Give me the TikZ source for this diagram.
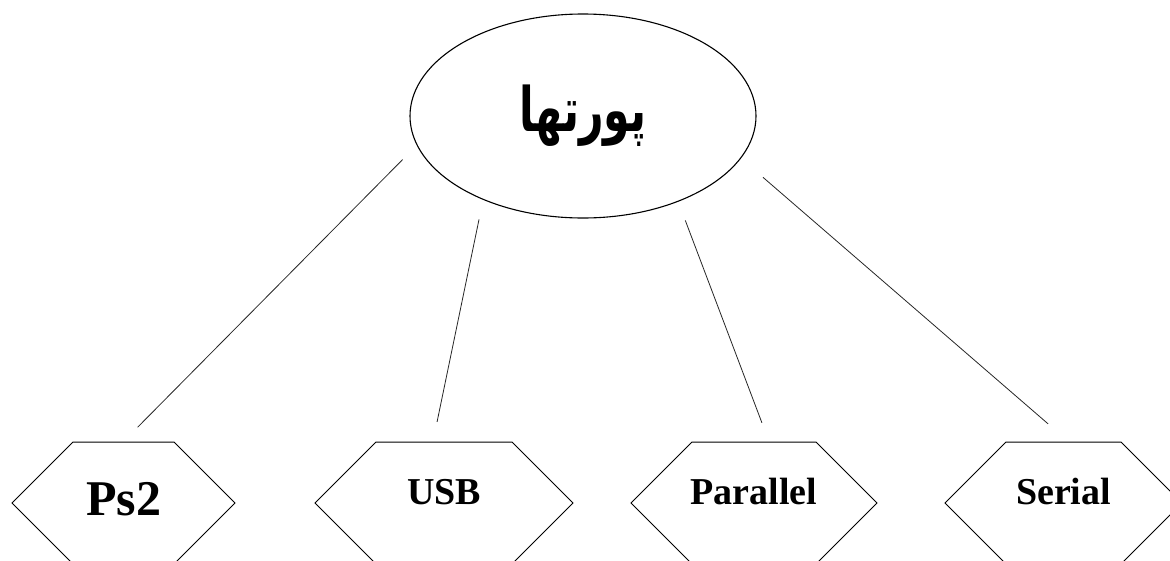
\documentclass[tikz,border=0pt]{standalone}
\usepackage{fontspec}
\setmainfont{Liberation Serif}
\newfontfamily\arabicfont[Script=Arabic]{DejaVu Sans}
\TeXXeTstate=1
\usetikzlibrary{shapes.geometric,shapes.symbols}

\begin{document}
\begin{tikzpicture}[x=1pt,y=1pt,
    port/.style={draw,line width=1pt,signal,signal to=east and west,signal pointer angle=90,minimum height=122pt,inner sep=0pt},
    porttext/.style={anchor=base,inner sep=0pt,font=\bfseries\fontsize{38}{40}\selectfont},
    link/.style={line width=0.8pt,black!85,shorten <=20pt,shorten >=20pt}]
    \useasboundingbox (0,0) rectangle (1170,-560);
    \node[draw,ellipse,line width=1.1pt,minimum width=346pt,minimum height=204pt] (ports) at (583,-116) {\scalebox{0.82}[1.18]{\arabicfont\bfseries\fontsize{52}{60}\selectfont\beginR پورتها\endR}};
    \node[port,minimum width=223pt] (ps2) at (123.5,-503) {};
    \node[port,minimum width=258pt] (usb) at (444,-503) {};
    \node[port,minimum width=246pt] (par) at (754,-503) {};
    \node[port,minimum width=237pt] (ser) at (1063.5,-503) {};
    \node[porttext,font=\bfseries\fontsize{50}{54}\selectfont] (ps2text) at (123.5,-515) {Ps2};
    \node[porttext] (usbtext) at (444,-504) {USB};
    \node[porttext] (partext) at (754,-504) {Parallel};
    \node[porttext] (sertext) at (1063.5,-504) {Serial};
    \draw[link] (ports.190) -- (ps2.north);
    \draw[link] (ports.220) -- ([xshift=-11pt]usb.north);
    \draw[link] (ports.318) -- ([xshift=15pt]par.north);
    \draw[link,shorten <=29pt,shorten >=27pt] (ports.345) -- ([xshift=5pt]ser.north);
\end{tikzpicture}
\end{document}
